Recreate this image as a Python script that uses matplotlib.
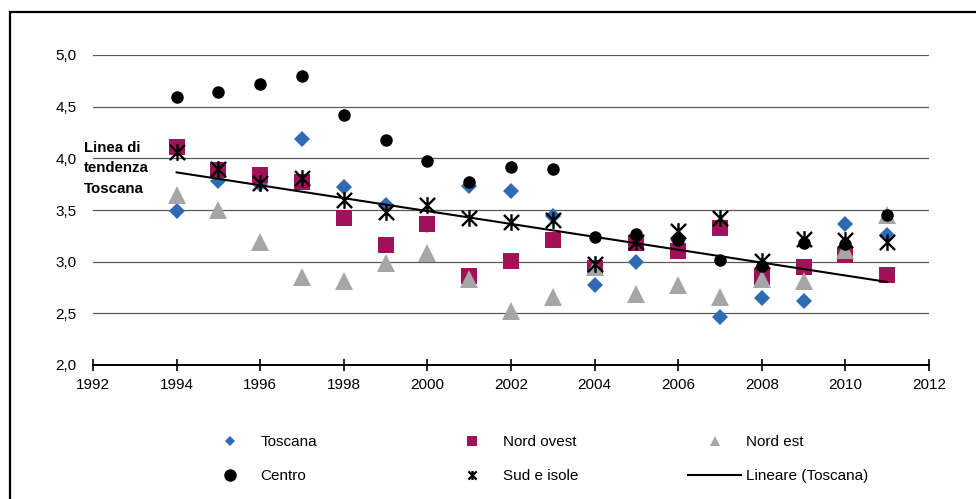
import numpy as np
import matplotlib
matplotlib.use("Agg")
import matplotlib.pyplot as plt
from matplotlib.lines import Line2D
from matplotlib.path import Path
from matplotlib.patches import Rectangle

plt.rcParams['font.family'] = ['Liberation Sans', 'DejaVu Sans']

# data
years = list(range(1994, 2012))
toscana = [3.49, 3.78, 3.75, 4.19, 3.72, 3.55, 3.35, 3.73, 3.68, 3.44,
           2.77, 3.00, 3.21, 2.46, 2.65, 2.62, 3.36, 3.26]
nord_ovest = [4.11, 3.89, 3.84, 3.77, 3.42, 3.16, 3.36, 2.86, 3.01, 3.21,
              2.94, 3.18, 3.10, 3.33, 2.85, 2.95, 3.06, 2.87]
nord_est = [3.65, 3.50, 3.19, 2.85, 2.81, 2.99, 3.08, 2.83, 2.52, 2.66,
            2.95, 2.69, 2.77, 2.66, 2.83, 2.81, 3.11, 3.45]
centro = [4.59, 4.64, 4.72, 4.80, 4.42, 4.18, 3.97, 3.77, 3.92, 3.90,
          3.24, 3.27, 3.21, 3.02, 2.96, 3.18, 3.17, 3.45]
sud_isole = [4.06, 3.90, 3.76, 3.81, 3.60, 3.48, 3.55, 3.42, 3.38, 3.40,
             2.98, 3.19, 3.30, 3.42, 3.01, 3.22, 3.21, 3.19]

xticks = list(range(1992, 2013, 2))
yticks = [2.0, 2.5, 3.0, 3.5, 4.0, 4.5, 5.0]

blue = '#2E6BB4'
magenta = '#A3105A'
grey = '#A6A6A6'
fs = 11

# excel style star: an x with a vertical bar
star = Path([(-1, -1), (1, 1), (-1, 1), (1, -1), (0, -1.1), (0, 1.1)],
            [Path.MOVETO, Path.LINETO, Path.MOVETO, Path.LINETO, Path.MOVETO, Path.LINETO])

fig = plt.figure(figsize=(9.76, 4.99), dpi=100)
ax = fig.add_axes([93 / 976, 1 - 365 / 499, (929 - 93) / 976, (365 - 55) / 499])

ax.plot(years, toscana, 'D', color=blue, ms=8.6, mew=0, zorder=3)
ax.plot(years, nord_ovest, 's', color=magenta, ms=12, mew=0, zorder=4)
ax.plot(years, nord_est, '^', color=grey, ms=13, mew=0, zorder=5)
ax.plot(years, centro, 'o', color='black', ms=9, mew=0, zorder=6)
ax.plot(years, sud_isole, marker=star, ls='none', color='black', mfc='none',
        ms=12, mew=1.7, zorder=7)

# linear trend of Toscana
k, q = np.polyfit(years, toscana, 1)
tx = np.array([years[0], years[-1]])
ax.plot(tx, k * tx + q, color='black', lw=1.5, zorder=8)

ax.text(1991.78, 3.905, "Linea di\ntendenza\nToscana", fontsize=10.8, fontweight='bold',
        ha='left', va='center', linespacing=1.6, zorder=9)

ax.set_xlim(1992, 2012)
ax.set_ylim(2.0, 5.0)
ax.set_xticks(xticks)
ax.set_yticks(yticks)
ax.set_yticklabels([f"{v:.1f}".replace('.', ',') for v in yticks])
for v in yticks[1:]:
    ax.axhline(v, color='#5a5a5a', lw=0.9, zorder=1)
for s in ['top', 'right', 'left']:
    ax.spines[s].set_visible(False)
ax.spines['bottom'].set_linewidth(1.4)
ax.spines['bottom'].set_zorder(2)
ax.tick_params(axis='x', direction='inout', length=9, width=1.2, labelsize=fs, pad=5)
ax.tick_params(axis='y', length=0, labelsize=fs, pad=12)

# legend in three columns
ms_leg = dict(ls='none', mew=0)
cols = [
    (203, [Line2D([], [], marker='D', color=blue, ms=4.8, **ms_leg),
           Line2D([], [], marker='o', color='black', ms=9, **ms_leg)],
     ["Toscana", "Centro"]),
    (445, [Line2D([], [], marker='s', color=magenta, ms=7.2, **ms_leg),
           Line2D([], [], marker=star, ls='none', color='black', mfc='none', ms=6.5, mew=1.6)],
     ["Nord ovest", "Sud e isole"]),
    (688, [Line2D([], [], marker='^', color=grey, ms=7.5, **ms_leg),
           Line2D([], [], color='black', lw=1.5)],
     ["Nord est", "Lineare (Toscana)"]),
]
for xpix, hs, ls in cols:
    fig.legend(hs, ls, loc='center left', bbox_to_anchor=(xpix / 976, 1 - 459 / 499),
               frameon=False, fontsize=fs, handlelength=3.5, handletextpad=0.27,
               borderpad=0, borderaxespad=0, labelspacing=1.3)

# outer frame (cut off at the right and bottom edges)
fig.add_artist(Rectangle((10 / 976, -0.1), 1.2, 1.1 - 12 / 499, transform=fig.transFigure,
                         fill=False, lw=1.6, ec='black', clip_on=False))

fig.savefig("out.png", dpi=100)
